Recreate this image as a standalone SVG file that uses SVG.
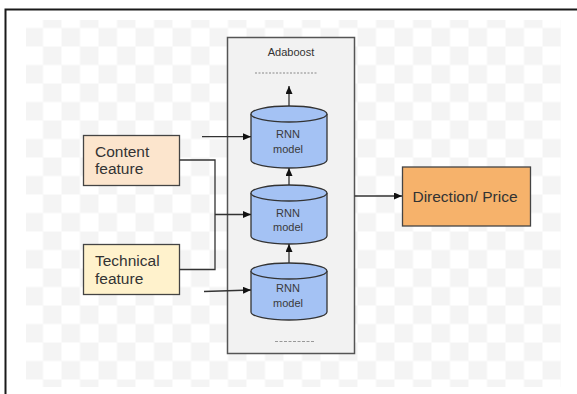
<svg xmlns="http://www.w3.org/2000/svg" width="577" height="394" viewBox="0 0 577 394">
<style>
text{font-family:"Liberation Sans",Arial,sans-serif;fill:#333}
.lbl{font-size:15.5px}
.cyl{font-size:11px;text-anchor:middle;fill:#3a3a3a}
.cylshape{fill:#a4c2f4;stroke:#333;stroke-width:1.3}
.conn{fill:none;stroke:#333;stroke-width:1.3}
.box{stroke:#444;stroke-width:1.3}
</style>
<defs>
<pattern id="chk" x="24.5" y="9.5" width="37" height="37" patternUnits="userSpaceOnUse">
<rect width="37" height="37" fill="#fff"/>
<rect x="18.5" y="0" width="18.5" height="18.5" fill="#f4f4f4"/>
<rect x="0" y="18.5" width="18.5" height="18.5" fill="#f4f4f4"/>
</pattern>
<marker id="arr" markerUnits="userSpaceOnUse" markerWidth="8" markerHeight="7" refX="8" refY="3.5" orient="auto">
<path d="M0,0 L8,3.5 L0,7 z" fill="#111"/>
</marker>
</defs>
<rect width="577" height="394" fill="#fff"/>
<rect x="26" y="20" width="535" height="367" fill="url(#chk)"/>
<path d="M5.5,394 V9.5 H577" fill="none" stroke="#1a1a1a" stroke-width="2"/>

<g id="adaboost">
<rect x="227.5" y="37.5" width="127" height="316" fill="#f2f2f2" stroke="#555" stroke-width="1.5"/>
<text x="291" y="56" font-size="11" text-anchor="middle">Adaboost</text>
<path d="M255,73 H318" stroke="#888" stroke-width="1" stroke-dasharray="2,1.5"/>
<path d="M275,341.5 H314" stroke="#999" stroke-width="1.2" stroke-dasharray="3,1.5"/>
</g>

<g id="rnn-top">
<path class="cylshape" d="M251,114 V160 A38,8 0 0 0 327,160 V114 A38,8 0 0 0 251,114 Z"/>
<path class="cylshape" d="M251,114 A38,8 0 0 0 327,114" fill="none"/>
<text class="cyl" x="288" y="138">RNN</text>
<text class="cyl" x="288" y="153">model</text>
</g>
<g id="rnn-mid">
<path class="cylshape" d="M251,193 V236 A38,8 0 0 0 327,236 V193 A38,8 0 0 0 251,193 Z"/>
<path class="cylshape" d="M251,193 A38,8 0 0 0 327,193" fill="none"/>
<text class="cyl" x="288" y="217">RNN</text>
<text class="cyl" x="288" y="231">model</text>
</g>
<g id="rnn-bot">
<path class="cylshape" d="M251,271 V312 A38,8 0 0 0 327,312 V271 A38,8 0 0 0 251,271 Z"/>
<path class="cylshape" d="M251,271 A38,8 0 0 0 327,271" fill="none"/>
<text class="cyl" x="288" y="292">RNN</text>
<text class="cyl" x="288" y="307">model</text>
</g>

<g id="content">
<rect class="box" x="83.5" y="135.5" width="96" height="50" fill="#fce5cd"/>
<text class="lbl" x="95" y="157">Content</text>
<text class="lbl" x="95" y="174">feature</text>
</g>
<g id="technical">
<rect class="box" x="83.5" y="244.5" width="96" height="50" fill="#fff2cc"/>
<text class="lbl" x="95" y="266">Technical</text>
<text class="lbl" x="95" y="283.5">feature</text>
</g>
<g id="direction">
<rect class="box" x="402.5" y="167" width="128" height="59" fill="#f6b26b"/>
<text class="lbl" x="465" y="201.5" text-anchor="middle">Direction/ Price</text>
</g>

<g id="connectors">
<path class="conn" d="M179.5,160 H215 V269.5 H179.5"/>
<path class="conn" d="M215,214.5 H251" marker-end="url(#arr)"/>
<path class="conn" d="M202,136.7 H251" marker-end="url(#arr)"/>
<path class="conn" d="M204,291.5 L251,290" marker-end="url(#arr)"/>
<path class="conn" d="M289,106 V86" marker-end="url(#arr)"/>
<path class="conn" d="M289,185 V168" marker-end="url(#arr)"/>
<path class="conn" d="M289,263 V244" marker-end="url(#arr)"/>
<path class="conn" d="M354.5,196 H402" marker-end="url(#arr)"/>
</g>
</svg>
